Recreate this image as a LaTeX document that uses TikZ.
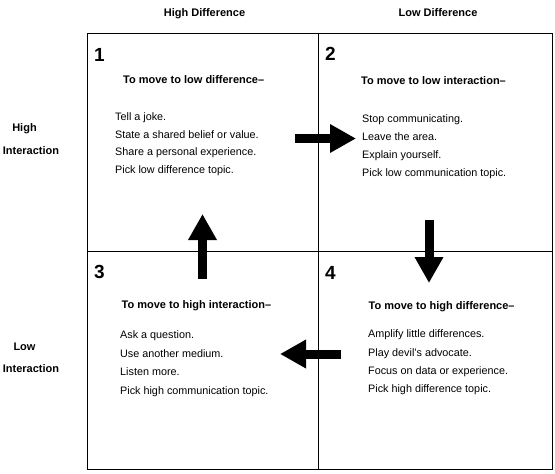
\documentclass[tikz,border=0pt]{standalone}
\usepackage{fontspec}
\setmainfont{Liberation Sans}
\usepackage{tikz}
\usetikzlibrary{arrows.meta}
\definecolor{gridInk}{HTML}{000000}
\tikzset{
  quad/.style={rectangle,draw=gridInk,line width=1pt,inner sep=0pt,outer sep=0pt,
    anchor=north west},
  qnum/.style={anchor=base west,inner sep=0pt,font=\fontsize{19}{19}\selectfont\bfseries},
  qhead/.style={anchor=base west,inner sep=0pt,font=\fontsize{11}{13}\selectfont\bfseries},
  qitem/.style={anchor=base west,inner sep=0pt,font=\fontsize{10.8}{13}\selectfont},
  axislabel/.style={anchor=base,inner sep=0pt,font=\fontsize{11}{13}\selectfont\bfseries},
  blockarrow/.style={draw=gridInk,line width=9pt,-{Triangle[length=26pt,width=27pt]}}
}
\begin{document}
\begin{tikzpicture}[x=1pt,y=-1pt]
\useasboundingbox (0,0) rectangle (555,474);
% column and row labels
\node[axislabel] (hidiff) at (204.5,16) {High Difference};
\node[axislabel] (lodiff) at (438,16) {Low Difference};
\node[axislabel] (hihigh) at (24.5,131.5) {High};
\node[axislabel] (hiinter) at (31,154) {Interaction};
\node[axislabel] (lolow) at (24.5,350) {Low};
\node[axislabel] (lointer) at (31,372.5) {Interaction};

% the four quadrants
\node[quad, minimum width=231pt, minimum height=218pt] (q1) at (87,33) {};
\node[quad, minimum width=234pt, minimum height=218pt] (q2) at (318,33) {};
\node[quad, minimum width=231pt, minimum height=218pt] (q3) at (87,251) {};
\node[quad, minimum width=234pt, minimum height=218pt] (q4) at (318,251) {};

% quadrant 1
\node[qnum] (n1) at (94,61) {1};
\node[qhead] (h1) at (123,83) {To move to low difference--};
\node[qitem] (i11) at (115,120.5) {Tell a joke.};
\node[qitem] (i12) at (115,138) {State a shared belief or value.};
\node[qitem] (i13) at (115,155.5) {Share a personal experience.};
\node[qitem] (i14) at (115,173) {Pick low difference topic.};

% quadrant 2
\node[qnum] (n2) at (325,60) {2};
\node[qhead] (h2) at (361,84) {To move to low interaction--};
\node[qitem] (i21) at (362,122.5) {Stop communicating.};
\node[qitem] (i22) at (362,140.5) {Leave the area.};
\node[qitem] (i23) at (362,158.5) {Explain yourself.};
\node[qitem] (i24) at (362,176.5) {Pick low communication topic.};

% quadrant 3
\node[qnum] (n3) at (94,278) {3};
\node[qhead] (h3) at (121.5,308) {To move to high interaction--};
\node[qitem] (i31) at (120,338.5) {Ask a question.};
\node[qitem] (i32) at (120,357) {Use another medium.};
\node[qitem] (i33) at (120,375.5) {Listen more.};
\node[qitem] (i34) at (120,394.5) {Pick high communication topic.};

% quadrant 4
\node[qnum] (n4) at (325,279) {4};
\node[qhead] (h4) at (368.5,309) {To move to high difference--};
\node[qitem] (i41) at (368,337.5) {Amplify little differences.};
\node[qitem] (i42) at (368,356) {Play devil's advocate.};
\node[qitem] (i43) at (368,374.5) {Focus on data or experience.};
\node[qitem] (i44) at (368,392.5) {Pick high difference topic.};

% moves between quadrants
\coordinate (r1) at (295,138.5);
\coordinate (r2) at (356,138.5);
\coordinate (d1) at (429,220);
\coordinate (d2) at (429,283);
\coordinate (w1) at (341,354);
\coordinate (w2) at (280,354);
\coordinate (u1) at (202.5,279);
\coordinate (u2) at (202.5,214);
\draw[blockarrow] (r1) -- (r2);
\draw[blockarrow] (d1) -- (d2);
\draw[blockarrow] (w1) -- (w2);
\draw[blockarrow] (u1) -- (u2);
\end{tikzpicture}
\end{document}
